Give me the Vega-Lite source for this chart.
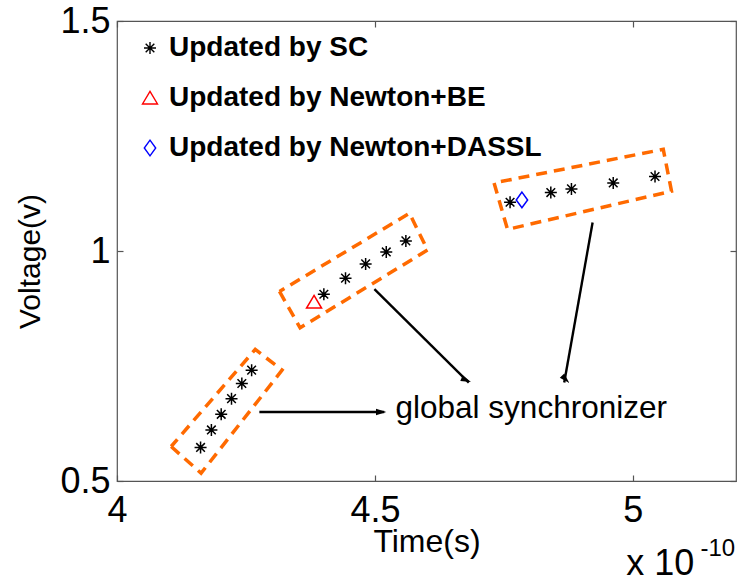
{
  "$schema": "https://vega.github.io/schema/vega-lite/v6.json",
  "width": 619,
  "height": 460,
  "autosize": "none",
  "padding": {"left": 117, "top": 21, "right": 3, "bottom": 104},
  "background": "white",
  "config": {
    "font": "Liberation Sans",
    "view": {"stroke": "#555555", "strokeWidth": 1.2},
    "axis": {
      "grid": false,
      "domain": false,
      "tickSize": -6,
      "tickColor": "#555555",
      "tickWidth": 1.2,
      "labelColor": "#000000",
      "titleColor": "#000000",
      "labelFont": "Liberation Sans",
      "titleFont": "Liberation Sans",
      "titleFontWeight": "normal",
      "labelFontSize": 36,
      "titleFontSize": 30,
      "labelFlush": false,
      "labelOverlap": false
    },
    "legend": {
      "orient": "none",
      "legendX": 19,
      "legendY": 13,
      "padding": 0,
      "labelFont": "Liberation Sans",
      "labelFontSize": 28,
      "labelFontWeight": "bold",
      "labelColor": "#000000",
      "labelLimit": 0,
      "symbolSize": 144,
      "symbolStrokeWidth": 1.4,
      "labelOffset": 5,
      "rowPadding": 22
    }
  },
  "datasets": {
    "points": [
      {"method": "Updated by SC", "t": 4.162, "v": 0.573},
      {"method": "Updated by SC", "t": 4.183, "v": 0.611},
      {"method": "Updated by SC", "t": 4.202, "v": 0.645},
      {"method": "Updated by SC", "t": 4.222, "v": 0.679},
      {"method": "Updated by SC", "t": 4.242, "v": 0.712},
      {"method": "Updated by SC", "t": 4.261, "v": 0.741},
      {"method": "Updated by Newton+BE", "t": 4.382, "v": 0.889},
      {"method": "Updated by SC", "t": 4.401, "v": 0.906},
      {"method": "Updated by SC", "t": 4.443, "v": 0.941},
      {"method": "Updated by SC", "t": 4.482, "v": 0.972},
      {"method": "Updated by SC", "t": 4.522, "v": 0.998},
      {"method": "Updated by SC", "t": 4.560, "v": 1.022},
      {"method": "Updated by SC", "t": 4.762, "v": 1.106},
      {"method": "Updated by Newton+DASSL", "t": 4.785, "v": 1.111},
      {"method": "Updated by SC", "t": 4.841, "v": 1.127},
      {"method": "Updated by SC", "t": 4.881, "v": 1.135},
      {"method": "Updated by SC", "t": 4.962, "v": 1.148},
      {"method": "Updated by SC", "t": 5.043, "v": 1.162}
    ],
    "boxes": [
      {"box": "b1", "idx": 0, "t": 4.105, "v": 0.575},
      {"box": "b1", "idx": 1, "t": 4.163, "v": 0.517},
      {"box": "b1", "idx": 2, "t": 4.320, "v": 0.741},
      {"box": "b1", "idx": 3, "t": 4.268, "v": 0.786},
      {"box": "b1", "idx": 4, "t": 4.105, "v": 0.575},
      {"box": "b2", "idx": 0, "t": 4.315, "v": 0.912},
      {"box": "b2", "idx": 1, "t": 4.355, "v": 0.833},
      {"box": "b2", "idx": 2, "t": 4.602, "v": 1.002},
      {"box": "b2", "idx": 3, "t": 4.567, "v": 1.082},
      {"box": "b2", "idx": 4, "t": 4.315, "v": 0.912},
      {"box": "b3", "idx": 0, "t": 4.731, "v": 1.148},
      {"box": "b3", "idx": 1, "t": 4.757, "v": 1.047},
      {"box": "b3", "idx": 2, "t": 5.075, "v": 1.130},
      {"box": "b3", "idx": 3, "t": 5.059, "v": 1.221},
      {"box": "b3", "idx": 4, "t": 4.731, "v": 1.148}
    ],
    "arrows": [
      {"arrow": "h", "t": 4.276, "v": 0.650, "t2": 4.518, "v2": 0.650},
      {"arrow": "d", "t": 4.499, "v": 0.917, "t2": 4.682, "v2": 0.714},
      {"arrow": "s", "t": 4.922, "v": 1.062, "t2": 4.867, "v2": 0.714}
    ],
    "heads": [
      {"arrow": "h", "t": 4.511, "v": 0.650},
      {"arrow": "d", "t": 4.676, "v": 0.720},
      {"arrow": "s", "t": 4.869, "v": 0.722}
    ],
    "notes": [
      {"label": "global synchronizer", "t": 4.540, "v": 0.637}
    ],
    "expbase": [
      {"label": "x 10", "t": 4.987, "v": 0.296}
    ],
    "expsup": [
      {"label": "-10", "t": 5.131, "v": 0.338}
    ]
  },
  "resolve": {"axis": {"x": "independent", "y": "independent"}},
  "layer": [
    {
      "data": {"name": "boxes"},
      "mark": {"type": "line", "color": "#ff6a00", "strokeWidth": 3.5, "strokeDash": [11, 7], "strokeCap": "butt"},
      "encoding": {
        "x": {
          "field": "t", "type": "quantitative",
          "scale": {"domain": [4, 5.2], "nice": false, "zero": false},
          "axis": {"values": [4, 4.5, 5], "format": "~g", "title": "Time(s)", "labelBaseline": "alphabetic", "labelPadding": 46, "titleBaseline": "alphabetic", "titleY": 70, "titleFontSize": 32}
        },
        "y": {
          "field": "v", "type": "quantitative",
          "scale": {"domain": [0.5, 1.5], "nice": false, "zero": false},
          "axis": {"values": [0.5, 1, 1.5], "format": "~g", "title": "Voltage(v)", "labelPadding": 13, "titleX": -87, "titleY": 240, "titleBaseline": "middle", "titleAlign": "center", "titleAngle": -90}
        },
        "detail": {"field": "box", "type": "nominal"},
        "order": {"field": "idx", "type": "quantitative"}
      }
    },
    {
      "data": {"name": "arrows"},
      "mark": {"type": "rule", "color": "#000000", "strokeWidth": 2.4},
      "encoding": {
        "x": {"field": "t", "type": "quantitative", "axis": {"orient": "top", "values": [4, 4.5, 5], "labels": false, "title": null}},
        "y": {"field": "v", "type": "quantitative", "axis": {"orient": "right", "values": [0.5, 1, 1.5], "labels": false, "title": null}},
        "x2": {"field": "t2"},
        "y2": {"field": "v2"}
      }
    },
    {
      "data": {"name": "heads"},
      "mark": {"type": "point", "filled": true, "color": "#000000", "opacity": 1, "size": 130, "shape": "M0,-1L0.55,0.8L-0.55,0.8Z"},
      "encoding": {
        "x": {"field": "t", "type": "quantitative", "axis": null},
        "y": {"field": "v", "type": "quantitative", "axis": null},
        "angle": {"field": "arrow", "type": "nominal", "scale": {"domain": ["h", "d", "s"], "range": [90, 135, 190]}, "legend": null}
      }
    },
    {
      "data": {"name": "points"},
      "mark": {"type": "point", "filled": false, "strokeWidth": 1.5, "size": 144, "opacity": 1},
      "encoding": {
        "x": {"field": "t", "type": "quantitative", "axis": null},
        "y": {"field": "v", "type": "quantitative", "axis": null},
        "shape": {
          "field": "method", "type": "nominal",
          "scale": {
            "domain": ["Updated by SC", "Updated by Newton+BE", "Updated by Newton+DASSL"],
            "range": [
              "M-1,0L1,0M0,-1L0,1M-0.72,-0.72L0.72,0.72M-0.72,0.72L0.72,-0.72M-0.3,0L0.3,0M0,-0.3L0,0.3",
              "M0,-1.1L1.25,1L-1.25,1Z",
              "M0,-1.3L0.95,0L0,1.3L-0.95,0Z"
            ]
          },
          "legend": {"title": null}
        },
        "color": {
          "field": "method", "type": "nominal",
          "scale": {
            "domain": ["Updated by SC", "Updated by Newton+BE", "Updated by Newton+DASSL"],
            "range": ["#000000", "#ff0000", "#0000ff"]
          },
          "legend": {"title": null}
        }
      }
    },
    {
      "data": {"name": "notes"},
      "mark": {"type": "text", "align": "left", "baseline": "alphabetic", "fontSize": 31.5, "font": "Liberation Sans", "color": "#000000"},
      "encoding": {
        "x": {"field": "t", "type": "quantitative", "axis": null},
        "y": {"field": "v", "type": "quantitative", "axis": null},
        "text": {"field": "label"}
      }
    },
    {
      "data": {"name": "expbase"},
      "mark": {"type": "text", "align": "left", "baseline": "alphabetic", "fontSize": 36, "font": "Liberation Sans", "color": "#000000"},
      "encoding": {
        "x": {"field": "t", "type": "quantitative", "axis": null},
        "y": {"field": "v", "type": "quantitative", "axis": null},
        "text": {"field": "label"}
      }
    },
    {
      "data": {"name": "expsup"},
      "mark": {"type": "text", "align": "left", "baseline": "alphabetic", "fontSize": 24, "font": "Liberation Sans", "color": "#000000"},
      "encoding": {
        "x": {"field": "t", "type": "quantitative", "axis": null},
        "y": {"field": "v", "type": "quantitative", "axis": null},
        "text": {"field": "label"}
      }
    }
  ]
}
